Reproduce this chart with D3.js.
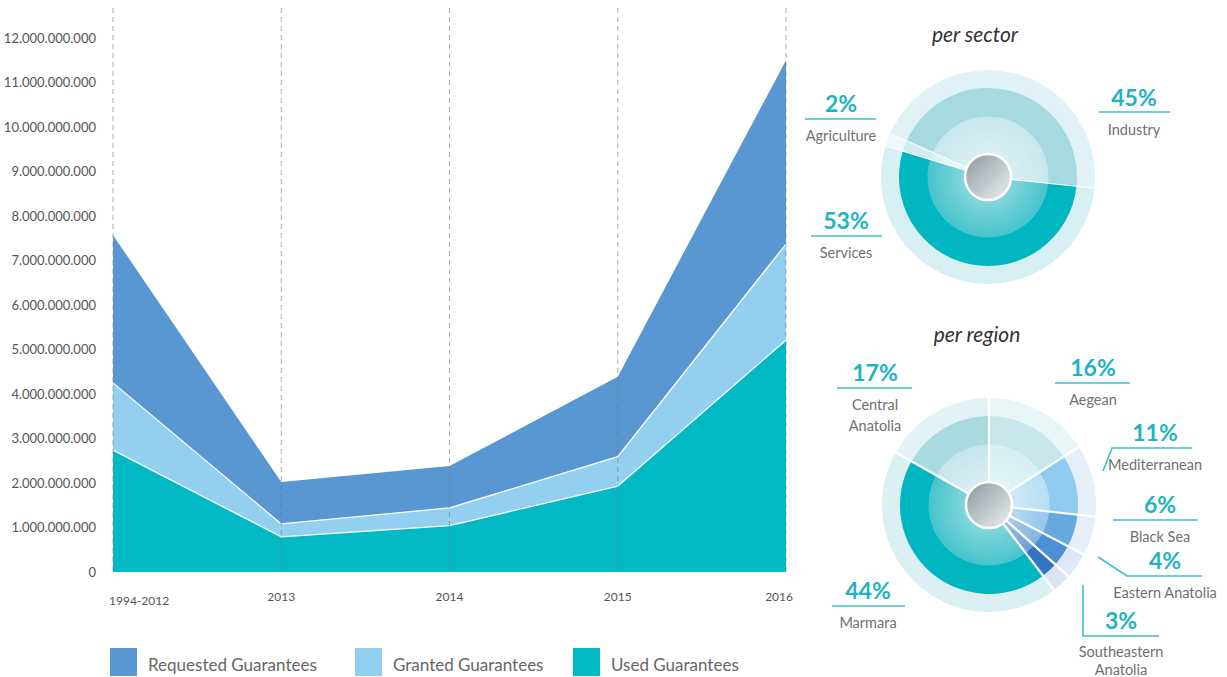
<!DOCTYPE html>
<html><head><meta charset="utf-8">
<script src="https://cdn.jsdelivr.net/npm/d3@7"></script>
<style>body{margin:0;background:#fff}svg{display:block}</style>
</head><body>
<svg id="c" width="1227" height="677"></svg>
<script>
// ---- data ----
const categories = ["1994-2012","2013","2014","2015","2016"];
const requested = [7.57e9, 2.02e9, 2.38e9, 4.39e9, 11.5e9];
const granted   = [4.25e9, 1.08e9, 1.44e9, 2.59e9, 7.37e9];
const used      = [2.74e9, 0.79e9, 1.04e9, 1.93e9, 5.21e9];
const yTicks = [0,1e9,2e9,3e9,4e9,5e9,6e9,7e9,8e9,9e9,10e9,11e9,12e9];
const seriesNames = ["Requested Guarantees","Granted Guarantees","Used Guarantees"];
const seriesColors = ["#5897d2","#93cfef","#00b9c5"];

const sectorNames = ["Industry","Services","Agriculture"];
const sectorValues = [45,53,2];
const regionNames = ["Aegean","Mediterranean","Black Sea","Eastern Anatolia","Southeastern Anatolia","Marmara","Central Anatolia"];
const regionValues = [16,11,6,4,3,44,17];

const svg = d3.select("#c");
const font = "Lato, 'Open Sans', sans-serif";

// ---- area chart ----
const x = d3.scalePoint().domain(categories).range([113,786]);
const y = d3.scaleLinear().domain([0,12e9]).range([572,38]);
const fmt = v => v===0 ? "0" : d3.format(",")(v).replace(/,/g,".");

const series = [requested, granted, used];
series.forEach((vals,i)=>{
  const area = d3.area().x((d,j)=>x(categories[j])).y0(y(0)).y1(d=>y(d));
  svg.append("path").datum(vals).attr("d",area).attr("fill",seriesColors[i]);
  if(i>0){
    const line = d3.line().x((d,j)=>x(categories[j])).y(d=>y(d));
    svg.append("path").datum(vals).attr("d",line).attr("fill","none")
      .attr("stroke","#fff").attr("stroke-width",1.3);
  }
});

// dashed verticals
svg.append("g").selectAll("line").data(categories).join("line")
  .attr("x1",d=>x(d)).attr("x2",d=>x(d)).attr("y1",8).attr("y2",y(0))
  .attr("stroke","#6f7b84").attr("stroke-opacity",0.6).attr("stroke-width",1)
  .attr("stroke-dasharray","5,4");

// y axis labels
const yAxis = d3.axisLeft(y).tickValues(yTicks).tickFormat(fmt).tickSize(0).tickPadding(0);
const yg = svg.append("g").attr("transform","translate(96,0)").call(yAxis);
yg.select(".domain").remove();
yg.selectAll("text").attr("font-family",font).attr("font-size",13).attr("fill","#555").attr("dy","0.32em");

// x labels
svg.append("g").selectAll("text").data(categories).join("text")
  .attr("x",(d,i)=> i===0 ? x(d)-4 : (i===categories.length-1 ? x(d)+7 : x(d)))
  .attr("y",(d,i)=> i===0 ? 605 : 601)
  .attr("text-anchor",(d,i)=> i===0 ? "start" : (i===categories.length-1 ? "end" : "middle"))
  .attr("font-family",font).attr("font-size",12).attr("fill","#555").text(d=>d);

// legend
const legX = [110,355,573];
seriesNames.forEach((n,i)=>{
  svg.append("rect").attr("x",legX[i]).attr("y",648).attr("width",27).attr("height",28).attr("fill",seriesColors[i]);
  svg.append("text").attr("x",legX[i]+38).attr("y",671).attr("font-family",font).attr("font-size",17)
    .attr("fill","#666").text(n);
});

// ---- donuts ----
const defs = svg.append("defs");
const hubGrad = defs.append("linearGradient").attr("id","hub").attr("x1","0").attr("y1","0").attr("x2","1").attr("y2","1");
hubGrad.append("stop").attr("offset","0%").attr("stop-color","#8a979e");
hubGrad.append("stop").attr("offset","100%").attr("stop-color","#eef1f2");
const glow = defs.append("radialGradient").attr("id","glow");
glow.append("stop").attr("offset","35%").attr("stop-color","#fff").attr("stop-opacity",0.35);
glow.append("stop").attr("offset","100%").attr("stop-color","#fff").attr("stop-opacity",0);

function donut(cx, cy, names, values, startDeg, colors, sw){
  const g = svg.append("g").attr("transform",`translate(${cx},${cy})`);
  const pie = d3.pie().sort(null).value(d=>d)
    .startAngle(startDeg*Math.PI/180).endAngle(startDeg*Math.PI/180+2*Math.PI);
  const arcs = pie(values);
  const rings = [[88.5,107,2],[60,89,0],[22,60.5,1]];
  rings.forEach(([r0,r1,ci])=>{
    const arc = d3.arc().innerRadius(r0).outerRadius(r1);
    g.append("g").selectAll("path").data(arcs).join("path")
      .attr("d",arc).attr("fill",(d,i)=>colors[i][ci]);
  });
  g.append("circle").attr("r",60).attr("fill","url(#glow)");
  // radial separators
  g.append("g").selectAll("line").data(arcs).join("line")
    .attr("x1",d=>23*Math.sin(d.startAngle)).attr("y1",d=>-23*Math.cos(d.startAngle))
    .attr("x2",d=>108*Math.sin(d.startAngle)).attr("y2",d=>-108*Math.cos(d.startAngle))
    .attr("stroke","#fff").attr("stroke-width",sw);
  g.append("circle").attr("r",23).attr("fill","url(#hub)").attr("stroke","#fff").attr("stroke-width",2.5);
}

donut(988,177,sectorNames,sectorValues,-66,[
  ["#a6dae0","#c6e8ec","#e0f2f5"],
  ["#00b6c1","#47c4cc","#d7f0f3"],
  ["#d2edf0","#def2f4","#eef8f9"]
],1);

donut(989,505,regionNames,regionValues,0,[
  ["#c7e7eb","#d6eff1","#e8f6f8"],
  ["#8ecbee","#b7dff3","#e6f0f9"],
  ["#66a9df","#95c7ea","#e6eef8"],
  ["#4d8fd4","#82b4e3","#e0e8f6"],
  ["#3574c3","#6e9fd8","#dce4f4"],
  ["#00b6c1","#47c4cc","#daf0f3"],
  ["#a9dae0","#c4e6ea","#e3f3f5"]
],2.2);

// titles
[["per sector",975,42],["per region",977,342]].forEach(([t,tx,ty])=>{
  svg.append("text").attr("x",tx).attr("y",ty).attr("text-anchor","middle")
    .attr("font-family",font).attr("font-style","italic").attr("font-size",21).attr("fill","#333").text(t);
});

// labels
const pctColor = "#1db4c1", lblColor = "#707070", lineColor = "#3cc0cb";
function label(pct, lines, tx, ty, path, gap, lh){
  gap = gap || 29; lh = lh || 21;
  svg.append("text").attr("x",tx).attr("y",ty).attr("text-anchor","middle")
    .attr("font-family",font).attr("font-weight","bold").attr("font-size",23).attr("fill",pctColor).text(pct);
  lines.forEach((l,i)=>{
    svg.append("text").attr("x",tx).attr("y",ty+gap+i*lh).attr("text-anchor","middle")
      .attr("font-family",font).attr("font-size",14.5).attr("fill",lblColor).text(l);
  });
  svg.append("path").attr("d",d3.line()(path)).attr("fill","none").attr("stroke",lineColor).attr("stroke-width",1.6);
}
// sector
label(sectorValues[2]+"%",["Agriculture"],841,112,[[805,119],[876,119]]);
label(sectorValues[0]+"%",["Industry"],1134,106,[[1099,112],[1170,112]]);
label(sectorValues[1]+"%",["Services"],846,229,[[811,236],[882,236]]);
// region
label(regionValues[6]+"%",["Central","Anatolia"],875,381,[[837,388],[912,388]]);
label(regionValues[0]+"%",["Aegean"],1093,376,[[1055,383],[1130,383]]);
label(regionValues[1]+"%",["Mediterranean"],1155,441,[[1103,471],[1112,448],[1192,448]]);
label(regionValues[2]+"%",["Black Sea"],1160,513,[[1113,520],[1198,520]]);
label(regionValues[3]+"%",["Eastern Anatolia"],1165,569,[[1098,557],[1127,576],[1202,576]]);
label(regionValues[4]+"%",["Southeastern","Anatolia"],1121,629,[[1083,585],[1083,636],[1159,636]],28,18);
label(regionValues[5]+"%",["Marmara"],868,599,[[832,606],[905,606]]);
</script>
</body></html>
